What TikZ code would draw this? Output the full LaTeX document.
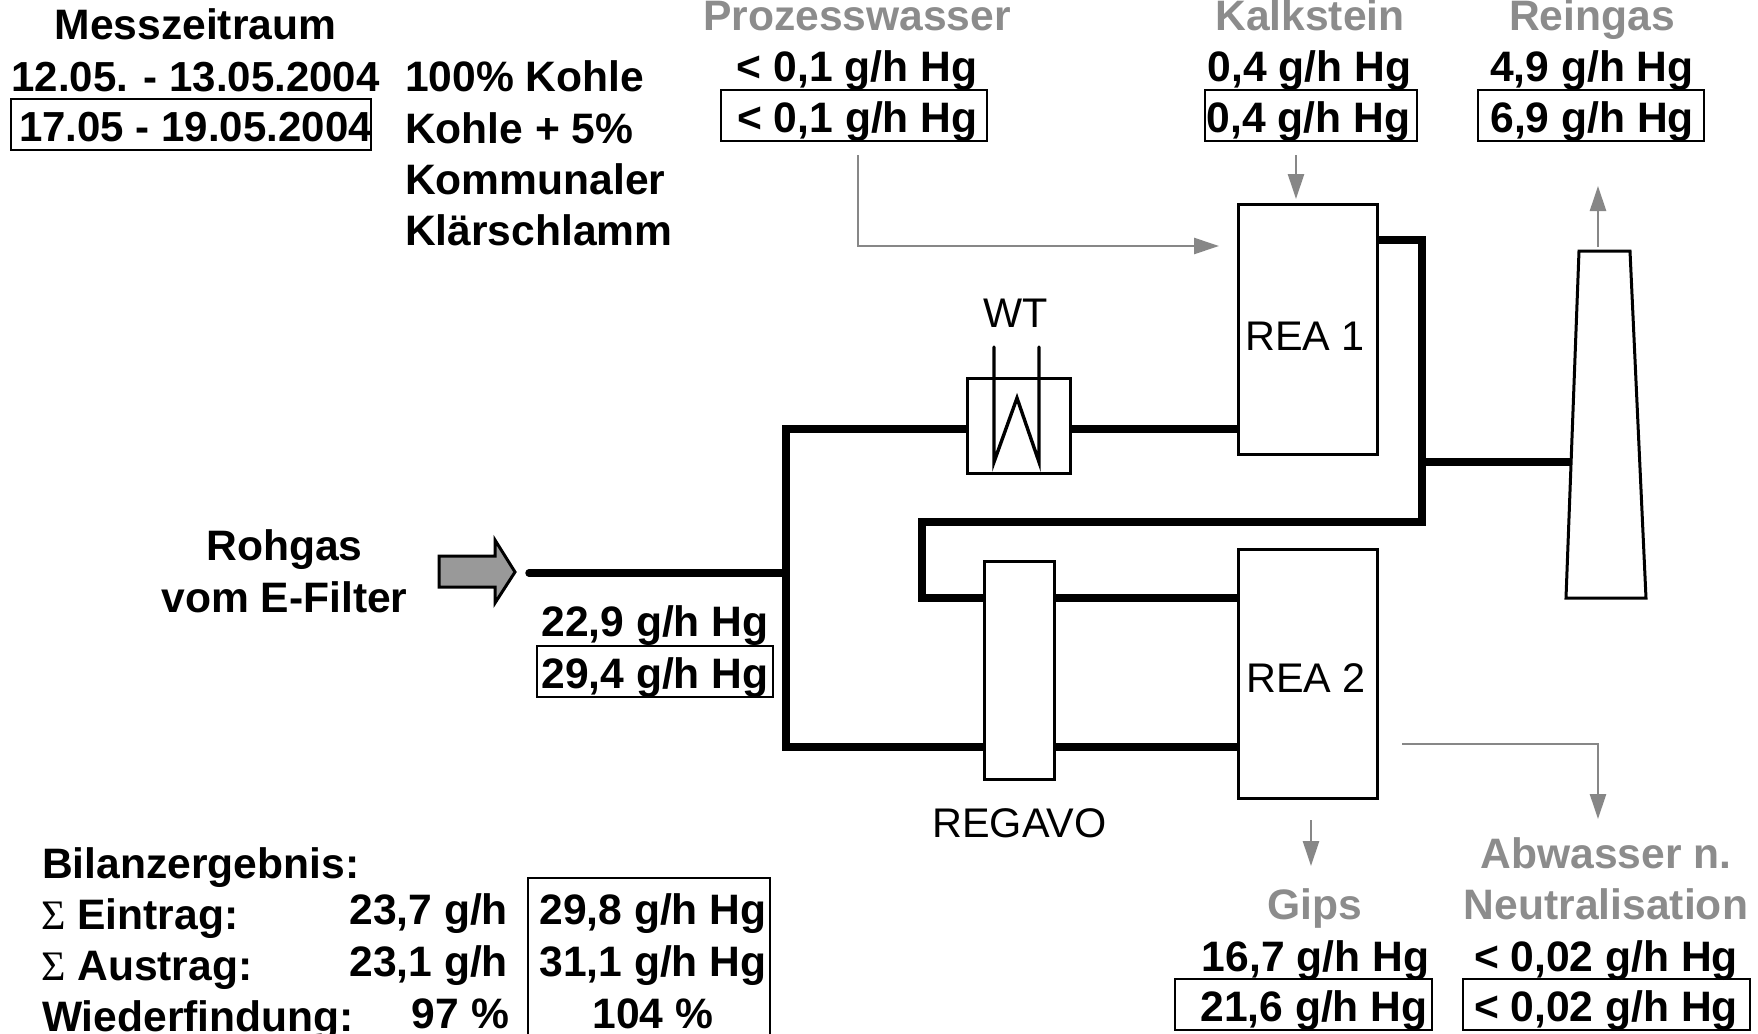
\documentclass[tikz,border=0pt]{standalone}
\usepackage{fontspec}
\setmainfont{Liberation Sans}
\newfontfamily\sigfont{Liberation Serif}
\usetikzlibrary{arrows.meta}
\definecolor{lblgray}{gray}{0.55}
\definecolor{arrgray}{gray}{0.53}
\definecolor{fatgray}{gray}{0.6}
\def\pxu{0.5pt}
\newcommand{\sumsign}{{\sigfont\mdseries\fontsize{21}{24}\selectfont Σ}}
\tikzset{
  x=0.5pt,y=-0.5pt,
  txt/.style={inner sep=0pt,outer sep=0pt,anchor=base,font=\fontsize{21.3}{24}\selectfont\bfseries},
  txtl/.style={txt,anchor=base west},
  txtr/.style={txt,anchor=base east},
  grayt/.style={txt,text=lblgray},
  datetxt/.style={font=\fontsize{21}{24}\selectfont\bfseries},
  plain/.style={inner sep=0pt,outer sep=0pt,anchor=base,font=\fontsize{20.7}{24}\selectfont},
  valbox/.style={txt,draw,line width=1pt,text height=21pt,text depth=4.5pt},
  unit/.style={draw,line width=1.5pt,inner sep=0pt,outer sep=0pt,fill=white},
  pipe/.style={line width=3.6pt},
  feed/.style={draw=arrgray,line width=1.3pt,-{Triangle[length=12.5pt,width=8pt,fill=arrgray]}},
}
\begin{document}
\begin{tikzpicture}
\useasboundingbox (0,0) rectangle (1758,1034);
% coordinates of pipes
\coordinate (start) at (529,573);
\coordinate (trT) at (786,429);
\coordinate (trM) at (786,573);
\coordinate (trB) at (786,747);
\coordinate (r1a) at (1422,240);
\coordinate (r1b) at (1422,522);
\coordinate (r1c) at (922,522);
\coordinate (r1d) at (922,598);
\coordinate (stk) at (1422,462);
\coordinate (wta) at (994,347);
\coordinate (wtb) at (994,462);
\coordinate (wtc) at (1017,398);
\coordinate (wtd) at (1039,462);
\coordinate (wte) at (1039,347);
% gray feed ends
\coordinate (pw0) at (858,155);
\coordinate (pw1) at (858,246);
\coordinate (pw2) at (1219,246);
\coordinate (ka0) at (1296,155);
\coordinate (ka1) at (1296,199);
\coordinate (re0) at (1598,247);
\coordinate (re1) at (1598,186);
\coordinate (ab0) at (1402,744);
\coordinate (ab1) at (1598,744);
\coordinate (ab2) at (1598,819);
\coordinate (gi0) at (1311,820);
\coordinate (gi1) at (1311,866);
% units
\node[unit,minimum width=139*\pxu,minimum height=250*\pxu] (rea1) at (1307.5,329) {};
\node[unit,minimum width=139*\pxu,minimum height=249*\pxu] (rea2) at (1307.5,673.5) {};
\node[unit,minimum width=103*\pxu,minimum height=95*\pxu] (wt) at (1019,425.5) {};
\node[unit,minimum width=70*\pxu,minimum height=218*\pxu] (regavo) at (1019,670) {};
% chimney
\draw[line width=1.5pt,line join=miter] (1579,251) -- (1630,251) -- (1646,598) -- (1566,598) -- cycle;
\coordinate (stkin) at (1571,462);
% pipes
\draw[pipe] (start) -- (trM);
\draw[pipe,line cap=round] (start) -- +(-0.1,0);
\draw[pipe,line join=miter] (wt.west |- trT) -- (trT) -- (trB) -- (regavo.west |- trB);
\draw[pipe] (wt.east |- trT) -- (rea1.west |- trT);
\draw[pipe] (regavo.east |- trB) -- (rea2.west |- trB);
\draw[pipe,line join=miter] (rea1.east |- r1a) -- (r1a) -- (r1b) -- (r1c) -- (r1d) -- (regavo.west |- r1d);
\draw[pipe] (regavo.east |- r1d) -- (rea2.west |- r1d);
\draw[pipe] (stk) -- (stkin);
% heat exchanger
\draw[line width=1.7pt,line cap=round,line join=miter,miter limit=20] (wta) -- (wtb) -- (wtc) -- (wtd) -- (wte);
% feed arrow
\draw[fill=fatgray,line width=1.5pt,line join=miter] (439,556) -- (495,556) -- (495,540) -- (515,572) -- (495,603) -- (495,587) -- (439,587) -- cycle;
% gray connectors
\draw[feed] (pw0) -- (pw1) -- (pw2);
\draw[feed] (ka0) -- (ka1);
\draw[feed] (re0) -- (re1);
\draw[feed] (ab0) -- (ab1) -- (ab2);
\draw[feed] (gi0) -- (gi1);
% plain labels
\node[plain] (lwt) at (1016,327) {WT};
\node[plain] (lr1) at (1305,350) {REA 1};
\node[plain] (lr2) at (1306,692) {REA 2};
\node[plain] (lrg) at (1019.5,837) {REGAVO};
% top-left
\node[txt] (t1) at (195.5,39) {Messzeitraum};
\node[txt,datetxt] (t2) at (195.5,91) {12.05. - 13.05.2004};
\node[valbox,datetxt] (t3) at (191,141) {\makebox[180pt][c]{\hspace*{4.5pt}17.05 - 19.05.2004}};
\node[txtl] (t4) at (405,91) {100\% Kohle};
\node[txtl] (t5) at (405,143) {Kohle + 5\%};
\node[txtl] (t6) at (405,194) {Kommunaler};
\node[txtl] (t7) at (405,245) {Klärschlamm};
% streams
\node[grayt] (p0) at (857,30) {Prozesswasser};
\node[txt] (p1) at (857,81) {< 0,1 g/h Hg};
\node[valbox,minimum width=266*\pxu] (p2) at (854,132) {\hspace*{3.4pt}< 0,1 g/h Hg};
\node[grayt] (k0) at (1310,30) {Kalkstein};
\node[txt] (k1) at (1309.5,81) {0,4 g/h Hg};
\node[valbox,minimum width=212*\pxu] (k2) at (1311,132) {0,4 g/h Hg\hspace*{2.5pt}};
\node[grayt] (r0) at (1592,30) {Reingas};
\node[txt] (r1) at (1592,81) {4,9 g/h Hg};
\node[valbox,minimum width=226*\pxu] (r2) at (1591,132) {\hspace*{1.2pt}6,9 g/h Hg};
\node[txt] (g1) at (284.5,560) {Rohgas};
\node[txt] (g2) at (284.5,612) {vom E-Filter};
\node[txt] (v1) at (655,636) {22,9 g/h Hg};
\node[valbox,minimum width=236*\pxu] (v2) at (655,688) {29,4 g/h Hg};
\node[grayt] (a0) at (1606,868) {Abwasser n.};
\node[grayt] (a1) at (1606,919) {Neutralisation};
\node[txt] (a2) at (1606,971) {< 0,02 g/h Hg};
\node[valbox,minimum width=287*\pxu] (a3) at (1606,1021) {< 0,02 g/h Hg};
\node[grayt] (s0) at (1315,919) {Gips};
\node[txt] (s1) at (1315.5,971) {16,7 g/h Hg};
\node[valbox,minimum width=257*\pxu] (s2) at (1303.5,1021) {\hspace*{10.5pt}21,6 g/h Hg};
% balance
\node[txtl] (b0) at (42,878) {Bilanzergebnis:};
\node[txtl] (b1) at (41,929) {\sumsign{} Eintrag:};
\node[txtl] (b2) at (41,980) {\sumsign{} Austrag:};
\node[txtl] (b3) at (42,1031) {Wiederfindung:};
\node[txtr] (c1) at (508,924) {23,7 g/h};
\node[txtr] (c2) at (508,976) {23,1 g/h};
\node[txtr] (c3) at (509,1028) {97 \%};
\node[txt] (d1) at (653,924) {29,8 g/h Hg};
\node[txt] (d2) at (653,976) {31,1 g/h Hg};
\node[txt] (d3) at (653,1028) {104 \%};
\coordinate (bl) at (528,1034);
\coordinate (tl) at (528,878);
\coordinate (tr) at (770,878);
\coordinate (br) at (770,1034);
\draw[line width=1pt] (bl) -- (tl) -- (tr) -- (br);
\end{tikzpicture}
\end{document}
